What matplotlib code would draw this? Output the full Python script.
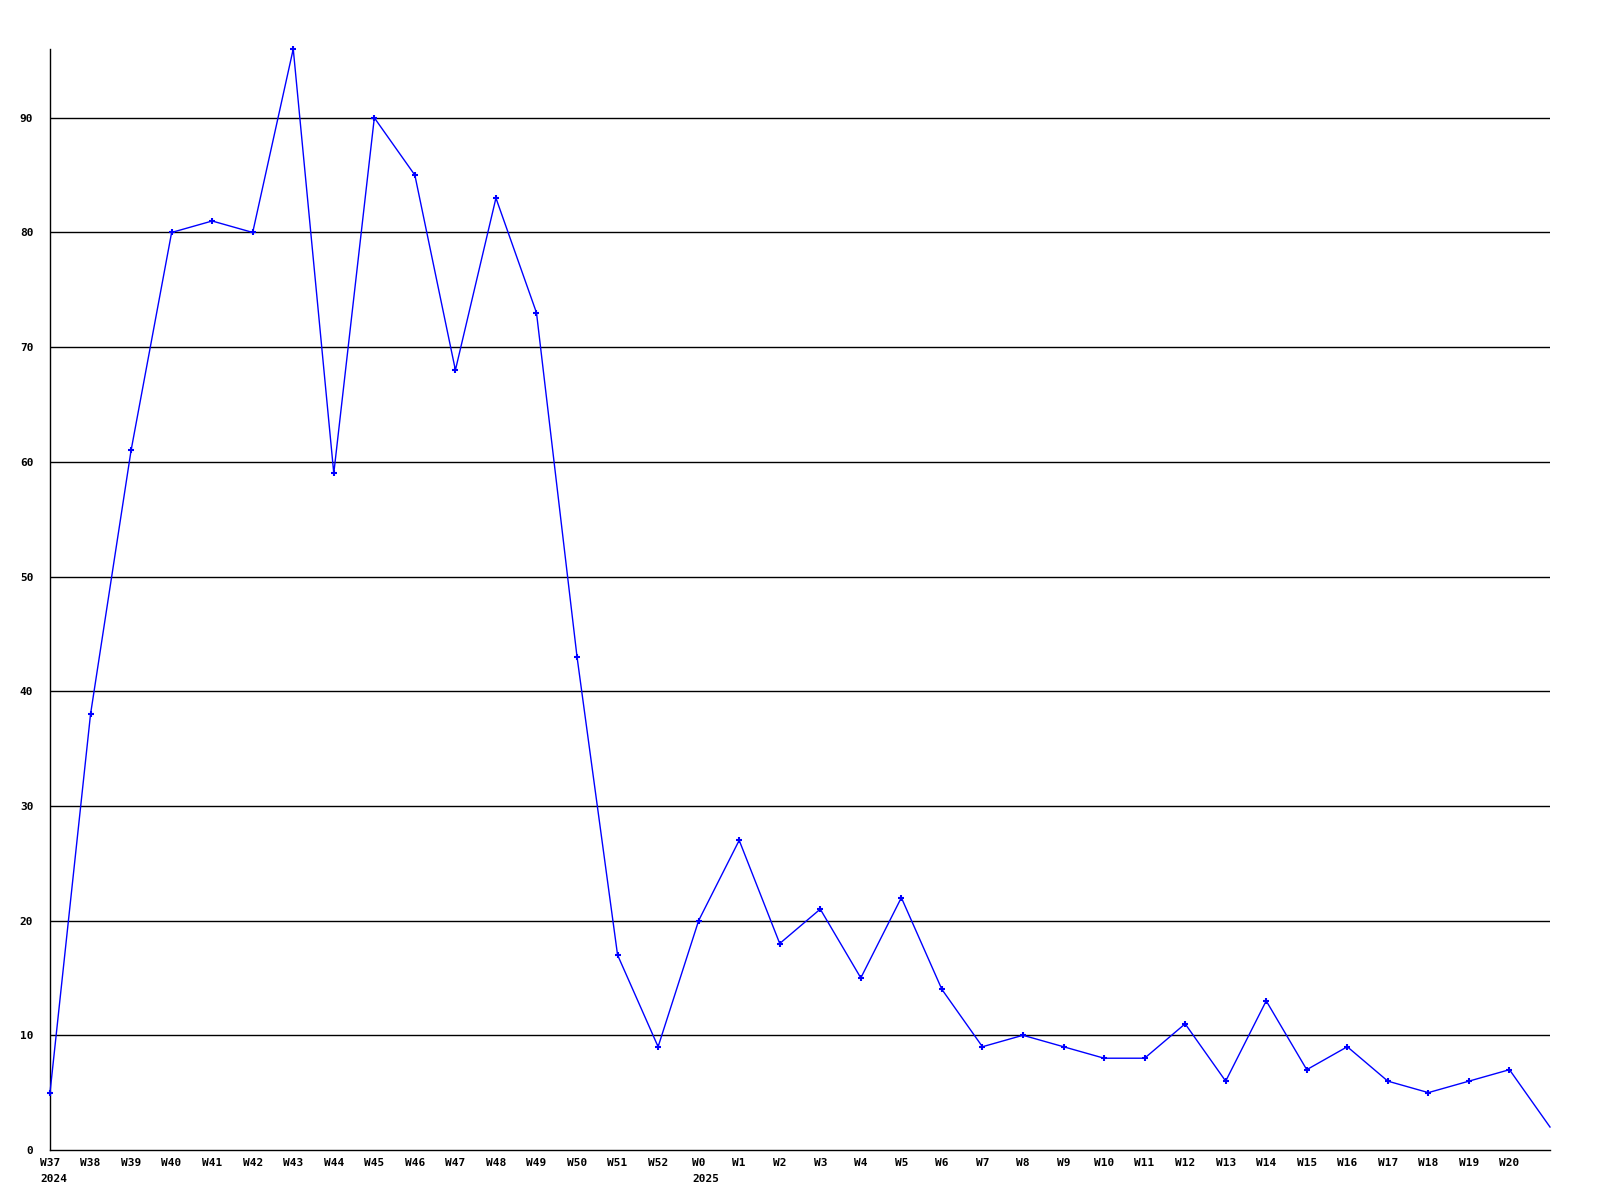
import numpy as np
import matplotlib
matplotlib.use("Agg")
import matplotlib.pyplot as plt

# weekly counts, W37 2024 through W21 2025
weeks = ["W37", "W38", "W39", "W40", "W41", "W42", "W43", "W44", "W45", "W46",
         "W47", "W48", "W49", "W50", "W51", "W52", "W0", "W1", "W2", "W3",
         "W4", "W5", "W6", "W7", "W8", "W9", "W10", "W11", "W12", "W13",
         "W14", "W15", "W16", "W17", "W18", "W19", "W20", ""]
values = [5, 38, 61, 80, 81, 80, 96, 59, 90, 85,
          68, 83, 73, 43, 17, 9, 20, 27, 18, 21,
          15, 22, 14, 9, 10, 9, 8, 8, 11, 6,
          13, 7, 9, 6, 5, 6, 7, 2]
year_marks = {"W37": "2024", "W0": "2025"}
yticks = [0, 10, 20, 30, 40, 50, 60, 70, 80, 90]

fs = 8
font = {"family": "DejaVu Sans Mono", "weight": "bold", "size": fs}

fig = plt.figure(figsize=(16, 12), dpi=100)
ax = fig.add_axes([0.03125, 0.0417, 0.9375, 0.9175])

x = np.arange(len(values))
for y in yticks[1:]:
    ax.axhline(y, color="black", lw=1.0, zorder=1)
# the last (current, partial) week has no marker
ax.plot(x, values, color="#0000ff", lw=1.0, marker="+", markersize=4,
        markeredgewidth=1.5, markevery=list(range(len(values) - 1)),
        clip_on=False, zorder=3)

ax.set_xlim(0, len(values) - 1)
ax.set_ylim(0, max(values))
ax.set_xticks(x)
ax.set_xticklabels(weeks, fontdict=font)
ax.set_yticks(yticks)
ax.set_yticklabels([str(v) for v in yticks], fontdict=font)
ax.tick_params(axis="x", length=0, pad=6)
ax.tick_params(axis="y", length=0, pad=12)

# year labels sit under the first week of each year, left aligned with it
for i, w in enumerate(weeks):
    if w in year_marks:
        off = -len(w) * 0.6 * fs / 2
        ax.annotate(year_marks[w], xy=(i, 0), xycoords=("data", "axes fraction"),
                    xytext=(off, -17), textcoords="offset points",
                    ha="left", va="top", **font)

for s in ["top", "right"]:
    ax.spines[s].set_visible(False)
for s in ["left", "bottom"]:
    ax.spines[s].set_color("black")
    ax.spines[s].set_linewidth(1.0)

fig.savefig("out.png", dpi=100)
